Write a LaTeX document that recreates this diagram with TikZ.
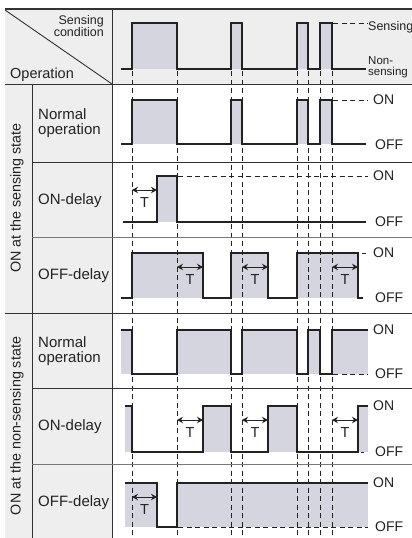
\documentclass[tikz,border=0pt]{standalone}
\usepackage{fontspec}
\setmainfont{Liberation Sans}
\usetikzlibrary{arrows.meta}
\definecolor{bggray}{HTML}{EEEEEE}
\definecolor{pulsec}{HTML}{D5D5E0}
\definecolor{inkc}{HTML}{222222}
\definecolor{gridc}{HTML}{333333}
\definecolor{gridlt}{HTML}{777777}
\newcommand\Tmark[4]{%
  \coordinate (#1a) at (#2,#4);
  \coordinate (#1b) at (#3,#4);
  \draw[tarrow] (#1a) -- (#1b);
  \node[tlabel] (#1t) at ({(#2+#3)/2},{#4+12.5}) {T};}
\begin{document}
\begin{tikzpicture}[x=1pt,y=-1pt,
  wave/.style={draw=inkc, line width=1.4pt, line join=miter},
  pfill/.style={fill=pulsec},
  guide/.style={draw=inkc, dash pattern=on 5pt off 3.5pt, line width=0.8pt},
  hdash/.style={draw=inkc, dash pattern=on 5pt off 3.5pt, line width=0.9pt},
  tline/.style={draw=gridc, line width=0.9pt},
  tlinelt/.style={draw=gridlt, line width=1pt},
  tarrow/.style={{Stealth[length=6pt,width=6.5pt]}-{Stealth[length=6pt,width=6.5pt]}, draw=inkc, line width=1pt},
  tlabel/.style={inner sep=0pt, text=inkc, font=\fontsize{14.5}{14.5}\selectfont},
  lbl/.style={inner sep=0pt, text=inkc, align=left, font=\fontsize{15}{15.5}\selectfont},
  onoff/.style={inner sep=0pt, anchor=west, text=inkc, font=\fontsize{14}{14}\selectfont},
  side/.style={inner sep=0pt, rotate=90, text=inkc, font=\fontsize{14.3}{14.3}\selectfont}]
\useasboundingbox (0,0) rectangle (412,538);
% backgrounds
\fill[bggray] (5,9) rectangle (412,84);
\fill[bggray] (5,84) rectangle (112,538);
% pulse fills
\foreach \lo/\hi in {23/69,100/144}{
  \fill[pfill] (132,\lo) rectangle (177,\hi);
  \fill[pfill] (231,\lo) rectangle (242,\hi);
  \fill[pfill] (297,\lo) rectangle (308,\hi);
  \fill[pfill] (320,\lo) rectangle (332,\hi);}
\fill[pfill] (157,176) rectangle (177,222);
\fill[pfill] (132,253) rectangle (203,298);
\fill[pfill] (231,253) rectangle (268,298);
\fill[pfill] (297,253) rectangle (358,298);
\fill[pfill] (121,330) rectangle (132,374);
\fill[pfill] (177,330) rectangle (231,374);
\fill[pfill] (242,330) rectangle (297,374);
\fill[pfill] (308,330) rectangle (320,374);
\fill[pfill] (332,330) rectangle (368,374);
\fill[pfill] (125,406) rectangle (132,452);
\fill[pfill] (203,406) rectangle (231,452);
\fill[pfill] (268,406) rectangle (297,452);
\fill[pfill] (358,406) rectangle (368,452);
\fill[pfill] (125,483) rectangle (157,527);
\fill[pfill] (177,483) rectangle (368,527);
% vertical guides
\foreach \xx in {132,177,231,242,297,308,320,332}
  \draw[guide] (\xx,71) -- (\xx,538);
% table lines
\draw[tline, line width=1.3pt] (5,9) -- (412,9);
\draw[tline] (5,84) -- (412,84);
\draw[tline] (112,9) -- (112,538);
\draw[tline] (32,84) -- (32,538);
\draw[tline] (5,313) -- (412,313);
\draw[tline] (32,162) -- (412,162);
\draw[tlinelt] (32,237) -- (412,237);
\draw[tline] (32,388) -- (412,388);
\draw[tlinelt] (32,464) -- (412,464);
\draw[tline] (5,10) -- (112,84);
% waveforms
\foreach \lo/\hi in {23/69,100/144}
  \draw[wave] (121,\hi) -- (132,\hi) -- (132,\lo) -- (177,\lo) -- (177,\hi) -- (231,\hi) -- (231,\lo) -- (242,\lo) -- (242,\hi) -- (297,\hi) -- (297,\lo) -- (308,\lo) -- (308,\hi) -- (320,\hi) -- (320,\lo) -- (332,\lo) -- (332,\hi) -- (366,\hi);
\draw[hdash] (333,23) -- (368,23);
\draw[hdash] (333,100) -- (368,100);
% ON-delay, sensing
\draw[wave] (123,222) -- (157,222) -- (157,176) -- (177,176) -- (177,222) -- (366,222);
\draw[hdash] (178,176) -- (368,176);
% OFF-delay, sensing
\draw[wave] (121,298) -- (132,298) -- (132,253) -- (203,253) -- (203,298) -- (231,298) -- (231,253) -- (268,253) -- (268,298) -- (297,298) -- (297,253) -- (358,253) -- (358,298) -- (363,298);
\draw[draw=inkc, line width=0.9pt] (362,253) -- (366,253);
% Normal, non-sensing
\draw[wave] (121,330) -- (132,330) -- (132,374) -- (177,374) -- (177,330) -- (231,330) -- (231,374) -- (242,374) -- (242,330) -- (297,330) -- (297,374) -- (308,374) -- (308,330) -- (320,330) -- (320,374) -- (332,374) -- (332,330) -- (368,330);
\draw[hdash] (333,374) -- (368,374);
% ON-delay, non-sensing
\draw[wave] (125,406) -- (132,406) -- (132,452) -- (203,452) -- (203,406) -- (231,406) -- (231,452) -- (268,452) -- (268,406) -- (297,406) -- (297,452) -- (358,452) -- (358,406) -- (368,406);
\draw[draw=inkc, line width=0.9pt] (361,452) -- (364,452);
% OFF-delay, non-sensing
\draw[wave] (125,483) -- (157,483) -- (157,527) -- (177,527) -- (177,483) -- (368,483);
\draw[hdash] (178,527) -- (368,527);
% T marks
\Tmark{ta}{132}{157}{190}
\Tmark{tb}{177}{203}{267}
\Tmark{tc}{242}{268}{267}
\Tmark{td}{332}{358}{267}
\Tmark{te}{177}{203}{420}
\Tmark{tf}{242}{268}{420}
\Tmark{tg}{332}{358}{420}
\Tmark{th}{132}{157}{497}
% header texts
\node[inner sep=0pt, anchor=north east, align=right, text=inkc, font=\fontsize{12.5}{11.5}\selectfont] (sc) at (104,15) {Sensing\\condition};
\node[inner sep=0pt, anchor=base west, text=inkc, font=\fontsize{14.5}{14.5}\selectfont] (op) at (10,78) {Operation};
\node[inner sep=0pt, anchor=west, text=inkc, font=\fontsize{12.5}{12.5}\selectfont] (sens) at (368,27) {Sensing};
\node[inner sep=0pt, anchor=west, align=left, text=inkc, font=\fontsize{11.5}{10.5}\selectfont] (nons) at (368,67) {Non-\\sensing};
% side labels
\node[side] (s1) at (17,198) {ON at the sensing state};
\node[side] (s2) at (17,426) {ON at the non-sensing state};
% row labels
\node[lbl, anchor=west] (r1) at (38,123) {Normal\\operation};
\node[lbl, anchor=west] (r2) at (38,201) {ON-delay};
\node[lbl, anchor=west] (r3) at (38,276) {OFF-delay};
\node[lbl, anchor=west] (r4) at (38,351) {Normal\\operation};
\node[lbl, anchor=west] (r5) at (38,427) {ON-delay};
\node[lbl, anchor=west] (r6) at (38,503) {OFF-delay};
% ON / OFF
\foreach \nm/\hy/\ly in {a/100/145,b/176/222,c/253/298,d/330/374,e/406/452,f/483/527}{
  \node[onoff] (on\nm) at (373,\hy) {ON};
  \node[onoff] (off\nm) at (375,\ly) {OFF};}
\end{tikzpicture}
\end{document}
